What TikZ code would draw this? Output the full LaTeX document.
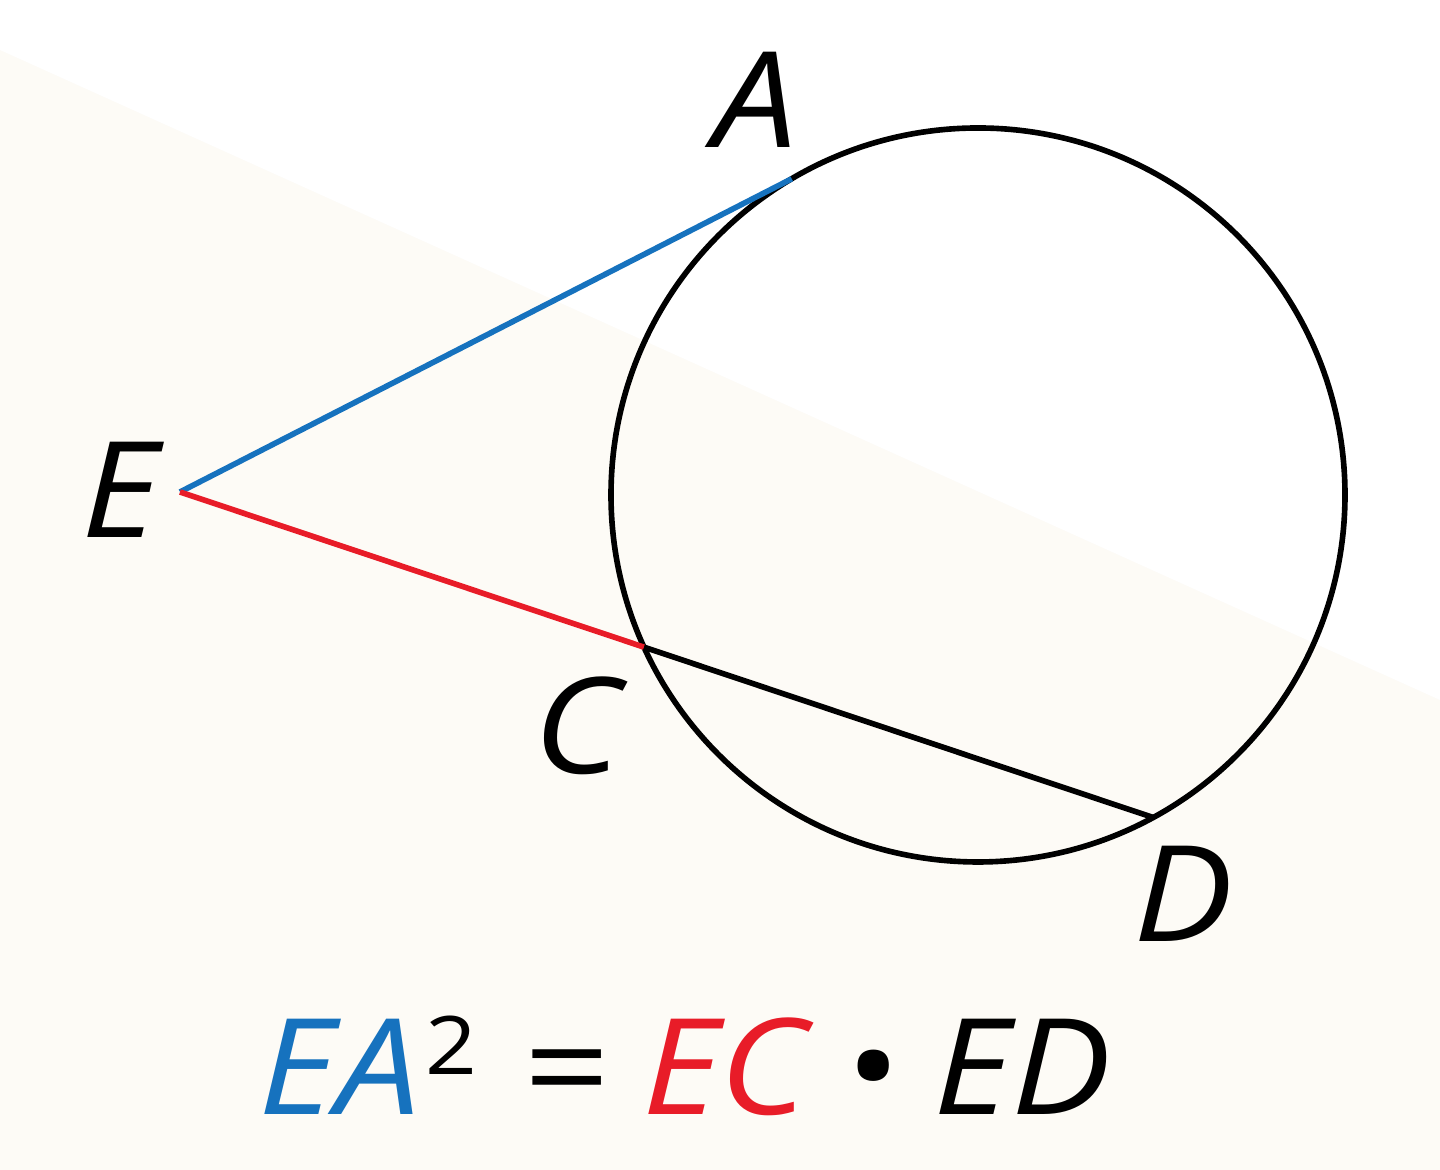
\documentclass[tikz,border=0pt]{standalone}
\usepackage{fontspec}
\setmainfont{Open Sans}[FakeStretch=1.12]
\usetikzlibrary{calc}
\definecolor{segblue}{RGB}{22,114,190}
\definecolor{segred}{RGB}{232,28,40}
\definecolor{paper}{RGB}{253,251,246}
\tikzset{
  lbl/.style={font=\fontsize{38}{46}\selectfont\itshape},
  seg/.style={line width=1.6pt}
}

\begin{document}
\begin{tikzpicture}
      \useasboundingbox (0,0) rectangle (14.4,11.7);
      \fill[paper] (0,0) rectangle (14.4,11.7);
      % soft edge of the light part
      \fill[paper!50!white] (0,11.4) -- (14.4,4.9) -- (14.4,11.7) -- (0,11.7) -- cycle;
      \fill[white] (0,11.2) -- (14.4,4.7) -- (14.4,11.7) -- (0,11.7) -- cycle;

      \coordinate (O) at (9.78,6.75);
      \coordinate (E) at (1.80,6.78);
      \coordinate (A) at ($(O)+(120.5:3.67)$);
      \coordinate (C) at ($(O)+(204.5:3.67)$);
      \coordinate (D) at ($(O)+(-61.5:3.67)$);

      \draw[seg] (O) circle (3.67);
      \draw[seg,segblue] (E) -- (A);
      \draw[seg,segred] (E) -- (C);
      \draw[seg] (C) -- (D);

      \node[lbl] (labA) at (7.55,10.70) {A};
      \node[lbl] (labE) at (1.20,6.80) {E};
      \node[lbl] (labC) at (5.77,4.44) {C};
      \node[lbl] (labD) at (11.83,2.76) {D};

      \node[lbl,anchor=base] (eq) at (6.85,0.55)
        {\textcolor{segblue}{EA}\hspace{0.05cm}\raisebox{0.4cm}{\fontsize{23}{25}\selectfont\upshape 2}\hspace{0.45cm}=\hspace{0.35cm}\textcolor{segred}{EC}\hspace{0.35cm}\textbullet\hspace{0.35cm}ED};
\end{tikzpicture}
\end{document}
